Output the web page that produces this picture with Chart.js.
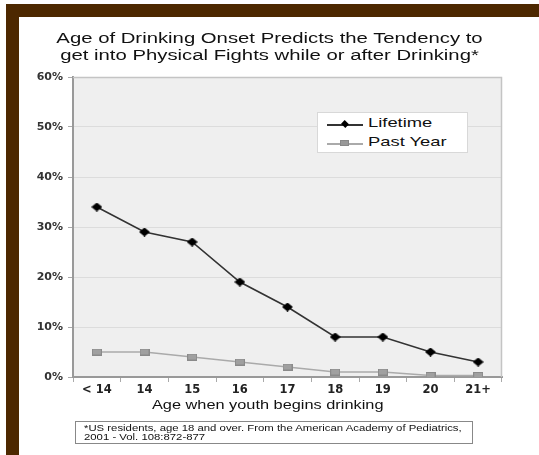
<!DOCTYPE html>
<html>
<head>
<meta charset="utf-8">
<script src="https://cdn.jsdelivr.net/npm/chart.js@4/dist/chart.umd.min.js"></script>
<style>
  html, body { margin: 0; padding: 0; background: #fff; }
  #wrap { position: relative; width: 539px; height: 455px; overflow: hidden; font-family: "Liberation Sans", Arial, sans-serif; }
  #c { position: absolute; left: 0; top: 0; }
  .brown { position: absolute; background: #4d2800; }
  #title { position: absolute; left: 0; top: 29px; width: 539px; text-align: center; font-size: 15.5px; line-height: 17px; color: #111; }
  #title div { display: block; transform: scaleX(1.31); transform-origin: 50% 50%; }
  #xtitle { position: absolute; left: 0; top: 397px; width: 539px; text-align: center; font-size: 13.5px; line-height: 16px; color: #111; }
  #xtitle span { display: inline-block; transform: scaleX(1.21); margin-left: -4px; }
  #legend { position: absolute; left: 317px; top: 112px; width: 151px; height: 41px; background: #fff; border: 1px solid #d8d8d8; box-sizing: border-box; }
  .li { position: absolute; left: 0; height: 20px; width: 150px; }
  .li .ln { position: absolute; left: 9px; width: 36px; top: 10px; height: 2px; }
  .li .mk { position: absolute; }
  .li .tx { position: absolute; left: 50px; top: 1px; font-size: 13.5px; color: #111; transform: scaleX(1.36); transform-origin: 0 50%; white-space: nowrap; }
  #foot { position: absolute; left: 75px; top: 421px; width: 398px; height: 23px; border: 1px solid #888; box-sizing: border-box; font-size: 8.6px; line-height: 9px; color: #111; padding: 2px 0 0 8px; }
  #foot div { transform: scaleX(1.32); transform-origin: 0 50%; white-space: nowrap; }
</style>
</head>
<body>
<div id="wrap">
  <canvas id="c" width="539" height="455"></canvas>
  <div class="brown" style="left:6px; top:4px; width:533px; height:13px;"></div>
  <div class="brown" style="left:6px; top:4px; width:13px; height:451px;"></div>
  <div id="title"></div>
  <div id="xtitle"><span></span></div>
  <div id="legend">
    <div class="li" style="top:1px;">
      <div class="ln" style="background:#333;"></div>
      <div class="mk" style="left:24px; top:7px; width:6px; height:6px; background:#000; transform:rotate(45deg) scaleY(0.85);"></div>
      <div class="tx">Lifetime</div>
    </div>
    <div class="li" style="top:20px;">
      <div class="ln" style="background:#aaa;"></div>
      <div class="mk" style="left:22px; top:7px; width:9px; height:6px; background:#999; border:1px solid #888; box-sizing:border-box;"></div>
      <div class="tx">Past Year</div>
    </div>
  </div>
  <div id="foot"><div>*US residents, age 18 and over. From the American Academy of Pediatrics,</div><div>2001 - Vol. 108:872-877</div></div>
</div>
<script>
const categories = ["< 14", "14", "15", "16", "17", "18", "19", "20", "21+"];
const lifetime = [34, 29, 27, 19, 14, 8, 8, 5, 3];
const pastYear = [5, 5, 4, 3, 2, 1, 1, 0.3, 0.3];
const yTicks = [0, 10, 20, 30, 40, 50, 60];
const titleLines = ["Age of Drinking Onset Predicts the Tendency to", "get into Physical Fights while or after Drinking*"];
const xTitle = "Age when youth begins drinking";

document.getElementById('title').innerHTML = titleLines.map(t => '<div>' + t + '</div>').join('');
document.querySelector('#xtitle span').textContent = xTitle;

function diamondMarker() {
  const c = document.createElement('canvas');
  c.width = 11; c.height = 9;
  const x = c.getContext('2d');
  x.fillStyle = '#000';
  x.beginPath();
  x.moveTo(5.5, 0); x.lineTo(11, 4.5); x.lineTo(5.5, 9); x.lineTo(0, 4.5);
  x.closePath(); x.fill();
  return c;
}
function squareMarker() {
  const c = document.createElement('canvas');
  c.width = 10; c.height = 7;
  const x = c.getContext('2d');
  x.fillStyle = '#8a8a8a';
  x.fillRect(0, 0, 10, 7);
  x.fillStyle = '#a0a0a0';
  x.fillRect(1, 1, 8, 5);
  return c;
}

const framePlugin = {
  id: 'frame',
  beforeDraw(chart) {
    const a = chart.chartArea, ctx = chart.ctx;
    ctx.save();
    ctx.fillStyle = '#efefef';
    ctx.fillRect(a.left, a.top, a.right - a.left, a.bottom - a.top);
    ctx.restore();
  },
  afterDatasetsDraw(chart) {
    const a = chart.chartArea, ctx = chart.ctx;
    ctx.save();
    ctx.strokeStyle = '#c4c4c4';
    ctx.lineWidth = 1.5;
    ctx.beginPath();
    ctx.moveTo(a.left, a.top + 0.5);
    ctx.lineTo(a.right - 0.5, a.top + 0.5);
    ctx.lineTo(a.right - 0.5, a.bottom);
    ctx.stroke();
    ctx.restore();
  }
};

const tickFont = '"DejaVu Sans", "Liberation Sans", sans-serif';

new Chart(document.getElementById('c'), {
  type: 'line',
  data: {
    labels: categories,
    datasets: [
      {
        label: 'Lifetime', data: lifetime,
        borderColor: '#333', borderWidth: 1.6,
        pointStyle: diamondMarker(), pointRadius: 5
      },
      {
        label: 'Past Year', data: pastYear,
        borderColor: '#aaa', borderWidth: 1.6,
        pointStyle: squareMarker(), pointRadius: 5
      }
    ]
  },
  options: {
    responsive: false,
    animation: false,
    layout: { padding: { left: 0, right: 37, top: 77, bottom: 38 } },
    plugins: {
      legend: { display: false },
      tooltip: { enabled: false },
      title: { display: false }
    },
    scales: {
      x: {
        offset: true,
        grid: { display: true, offset: true, drawOnChartArea: false, drawTicks: true, tickLength: 5, tickColor: '#aaa', color: '#aaa' },
        border: { color: '#999', width: 2 },
        ticks: { color: '#222', padding: 1, font: { family: tickFont, size: 11.5, weight: 'bold' } },
        afterFit(s) { s.height = 40; }
      },
      y: {
        min: 0, max: 60,
        afterBuildTicks(s) { s.ticks = yTicks.map(v => ({ value: v })); },
        grid: { color: '#dcdcdc', lineWidth: 1, tickLength: 5, tickColor: '#aaa' },
        border: { color: '#999', width: 2 },
        ticks: { color: '#333', padding: 5, callback: v => v + '%', font: { family: tickFont, size: 11, weight: 'bold' } },
        afterFit(s) { s.width = 73; }
      }
    }
  },
  plugins: [framePlugin]
});
</script>
</body>
</html>
